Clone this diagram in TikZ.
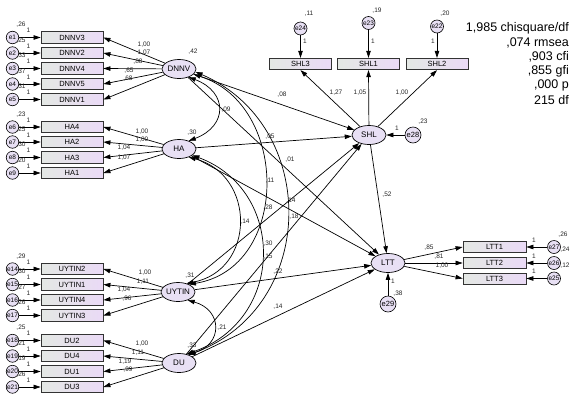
\documentclass[tikz,border=0pt]{standalone}
\usepackage{fontspec}
\setmainfont{Liberation Sans}
\usetikzlibrary{arrows.meta,shapes.geometric}
\definecolor{latfill}{RGB}{232,224,244}
\definecolor{boxL}{RGB}{228,232,228}
\definecolor{boxR}{RGB}{234,218,246}
\begin{document}
\begin{tikzpicture}[x=1pt,y=-1pt,
 lat/.style={ellipse,draw=black,line width=0.7pt,fill=latfill,minimum width=34pt,minimum height=19pt,inner sep=0pt,font=\fontsize{8}{9}\selectfont},
 obs/.style={rectangle,draw=black!80,line width=0.8pt,left color=boxL,right color=boxR,minimum width=62pt,minimum height=11.5pt,inner sep=0pt,font=\fontsize{7.5}{8}\selectfont},
 err/.style={circle,draw=black,line width=0.6pt,fill=latfill,minimum size=12.5pt,inner sep=0pt,font=\fontsize{6.5}{7}\selectfont},
 errb/.style={err,minimum size=16pt,font=\fontsize{7.5}{8}\selectfont},
 reg/.style={-{Triangle[length=7pt,width=4.5pt]},line width=0.7pt},
 cov/.style={{Triangle[length=7pt,width=4.5pt]}-{Triangle[length=7pt,width=4.5pt]},line width=0.7pt},
 num/.style={inner sep=0pt,font=\fontsize{6.5}{7}\selectfont,text=black!85},
 stat/.style={inner sep=0pt,anchor=east,font=\fontsize{12.5}{14}\selectfont}]
\useasboundingbox (0,0) rectangle (575,402);

% latent variables
\node[lat] (DNNV) at (179,69) {DNNV};
\node[lat] (HA) at (179,149) {HA};
\node[lat] (UYTIN) at (178,292) {UYTIN};
\node[lat] (DU) at (179,363) {DU};
\node[lat] (SHL) at (369,135) {SHL};
\node[lat] (LTT) at (388,263) {LTT};

% left indicators with errors
\foreach \nm/\yy/\ee/\vv/\lv in {DNNV3/37.5/e1/{,26}/DNNV, DNNV2/53/e2/{,25}/DNNV, DNNV4/68.5/e3/{,33}/DNNV, DNNV5/84/e4/{,37}/DNNV, DNNV1/99.5/e5/{,31}/DNNV,
 HA4/127/e6/{,23}/HA, HA2/142/e7/{,25}/HA, HA3/157.5/e8/{,30}/HA, HA1/173/e9/{,20}/HA,
 UYTIN2/269/e14/{,29}/UYTIN, UYTIN1/284.5/e15/{,30}/UYTIN, UYTIN4/300/e16/{,27}/UYTIN, UYTIN3/315.5/e17/{,26}/UYTIN,
 DU2/340.5/e18/{,25}/DU, DU4/356/e19/{,21}/DU, DU1/371.5/e20/{,19}/DU, DU3/387/e21/{,26}/DU}{
  \node[obs] (\nm) at (72,\yy) {\nm};
  \node[err] (\ee) at (12.5,\yy) {\ee};
  \draw[reg] (\ee) -- (\nm);
  \node[num] (v\ee) at (21,\yy-12.5) {\vv};
  \node[num] (one\ee) at (28.5,\yy-7) {1};
  \draw[reg] (\lv) -- (\nm.east);
}

% loading labels left
\node[num] (lD3) at (144,45) {1,00};
\node[num] (lD2) at (144,53) {1,07};
\node[num] (lD4) at (138,62) {,88};
\node[num] (lD5) at (129,71) {,65};
\node[num] (lD1) at (128,79) {,68};
\node[num] (lH4) at (142,131.5) {1,00};
\node[num] (lH2) at (142,140) {1,00};
\node[num] (lH3) at (124,148) {1,04};
\node[num] (lH1) at (124,157.5) {1,07};
\node[num] (lU2) at (145,273) {1,00};
\node[num] (lU1) at (143,281.5) {1,11};
\node[num] (lU4) at (124,290) {1,04};
\node[num] (lU3) at (127,298.5) {,96};
\node[num] (lDU2) at (142,344) {1,00};
\node[num] (lDU4) at (138,352.5) {1,11};
\node[num] (lDU1) at (125,361.5) {1,19};
\node[num] (lDU3) at (128,370) {,99};

% latent variances
\node[num] (vDNNV) at (193,52) {,42};
\node[num] (vHA) at (192,133) {,30};
\node[num] (vUYTIN) at (190,276) {,31};
\node[num] (vDU) at (192,346) {,33};

% SHL indicators
\node[obs] (SHL3) at (300.5,64) {SHL3};
\node[obs] (SHL1) at (368.5,64) {SHL1};
\node[obs] (SHL2) at (437,64) {SHL2};
\node[err,minimum size=13pt] (e24) at (300.5,28.5) {e24};
\node[err,minimum size=13pt] (e23) at (368.5,23) {e23};
\node[err,minimum size=13pt] (e22) at (437,26.5) {e22};
\draw[reg] (e24) -- (SHL3);
\draw[reg] (e23) -- (SHL1);
\draw[reg] (e22) -- (SHL2);
\node[num] (ve24) at (309,14) {,11};
\node[num] (ve23) at (377,11) {,19};
\node[num] (ve22) at (445,14) {,20};
\node[num] (o24) at (305,41) {1};
\node[num] (o23) at (373,41) {1};
\node[num] (o22) at (433,41) {1};
\draw[reg] (SHL) -- (SHL3.south);
\draw[reg] (SHL) -- (SHL1.south);
\draw[reg] (SHL) -- (SHL2.south);
\node[num] (lS3) at (336,93) {1,27};
\node[num] (lS1) at (360,93) {1,05};
\node[num] (lS2) at (402,93) {1,00};

% SHL disturbance
\node[errb] (e28) at (413,135) {e28};
\draw[reg] (e28) -- (SHL);
\node[num] (o28) at (397,128) {1};
\node[num] (ve28) at (423,122) {,23};

% LTT indicators
\node[obs,minimum width=63pt,minimum height=11pt] (LTT1) at (494.5,247) {LTT1};
\node[obs,minimum width=63pt,minimum height=11pt] (LTT2) at (494.5,263) {LTT2};
\node[obs,minimum width=63pt,minimum height=11pt] (LTT3) at (494.5,278.5) {LTT3};
\node[err,minimum size=13pt] (e27) at (554,247) {e27};
\node[err,minimum size=13pt] (e26) at (554,263) {e26};
\node[err,minimum size=13pt] (e25) at (554,278.5) {e25};
\draw[reg] (e27) -- (LTT1);
\draw[reg] (e26) -- (LTT2);
\draw[reg] (e25) -- (LTT3);
\node[num] (o27) at (534,240.5) {1};
\node[num] (o26) at (534,256) {1};
\node[num] (o25) at (534,271.5) {1};
\node[num] (ve27) at (563,235) {,26};
\node[num] (ve26) at (565,250) {,24};
\node[num] (ve25) at (565,265.5) {,12};
\draw[reg] (LTT) -- (LTT1.west);
\draw[reg] (LTT) -- (LTT2.west);
\draw[reg] (LTT) -- (LTT3.west);
\node[num] (lL1) at (429,248) {,85};
\node[num] (lL2) at (439,256.5) {,81};
\node[num] (lL3) at (442,266) {1,00};

% LTT disturbance
\node[errb] (e29) at (388,304) {e29};
\draw[reg] (e29) -- (LTT);
\node[num] (o29) at (393,281) {1};
\node[num] (ve29) at (398,294) {,38};

% structural paths
\draw[reg] (DNNV) -- (SHL);
\draw[reg] (HA) -- (SHL);
\draw[reg] (UYTIN) -- (SHL);
\draw[reg] (DU) -- (SHL);
\draw[reg] (DNNV) -- (LTT);
\draw[reg] (HA) -- (LTT);
\draw[reg] (UYTIN) -- (LTT);
\draw[reg] (DU) -- (LTT);
\draw[reg] (SHL) -- (LTT);

% covariances
\draw[cov] (DNNV.-40) .. controls (228,92) and (228,126) .. (HA.40);
\draw[cov] (DNNV.-20) .. controls (290,105) and (290,268) .. (UYTIN.35);
\draw[cov] (DNNV.-10) .. controls (319,125) and (319,306) .. (DU.40);
\draw[cov] (HA.-40) .. controls (256,175) and (256,270) .. (UYTIN.45);
\draw[cov] (HA.-25) .. controls (286,190) and (286,320) .. (DU.50);
\draw[cov] (UYTIN.-40) .. controls (223,310) and (223,345) .. (DU.45);

% path labels
\node[num] (p1) at (282,95) {,08};
\node[num] (p2) at (226,110) {,09};
\node[num] (p3) at (270,137) {,05};
\node[num] (p4) at (290,160) {,01};
\node[num] (p5) at (270,181) {,11};
\node[num] (p6) at (268,208) {,28};
\node[num] (p7) at (291,201) {,14};
\node[num] (p8) at (294,217) {,18};
\node[num] (p9) at (245,222) {,14};
\node[num] (p10) at (268,244) {,30};
\node[num] (p11) at (268,257) {,15};
\node[num] (p12) at (278,272) {,22};
\node[num] (p13) at (278,307) {,14};
\node[num] (p14) at (222,328) {,21};
\node[num] (p15) at (387,195) {,52};

% fit statistics
\node[stat] (f1) at (569,28) {1,985 chisquare/df};
\node[stat] (f2) at (569,42.5) {,074 rmsea};
\node[stat] (f3) at (569,57) {,903 cfi};
\node[stat] (f4) at (569,71) {,855 gfi};
\node[stat] (f5) at (569,85.5) {,000 p};
\node[stat] (f6) at (569,100) {215 df};
\end{tikzpicture}
\end{document}
